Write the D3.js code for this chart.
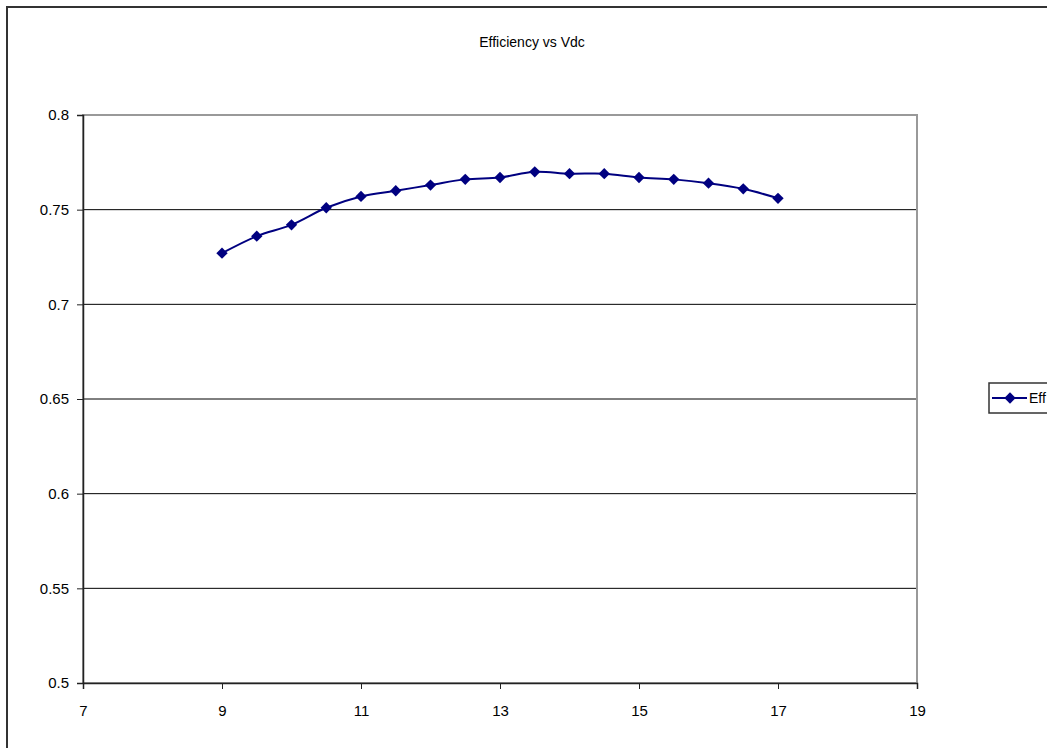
<!DOCTYPE html>
<html>
<head>
<meta charset="utf-8">
<script src="https://cdn.jsdelivr.net/npm/d3@7"></script>
<style>
	body { margin: 0; background: #fff; }
	text { font-family: "Liberation Sans", Arial, sans-serif; }
</style>
</head>
<body>
<div class="chart"></div>
<script>
var vdc = [9, 9.5, 10, 10.5, 11, 11.5, 12, 12.5, 13, 13.5, 14, 14.5, 15, 15.5, 16, 16.5, 17];
var eff = [0.727, 0.736, 0.742, 0.751, 0.757, 0.760, 0.763, 0.766, 0.767, 0.770, 0.769, 0.769, 0.767, 0.766, 0.764, 0.761, 0.756];
var xTicks = [7, 9, 11, 13, 15, 17, 19];
var yTicks = [0.5, 0.55, 0.6, 0.65, 0.7, 0.75, 0.8];
var seriesName = 'Eff';
var title = 'Efficiency vs Vdc';

var drawChart = function(){
	var w = 1047, h = 748;
	var pLeft = 83, pRight = 917, pTop = 115, pBottom = 683;
	var navy = '#000080';

	var svg = d3.select('.chart').append('svg')
		.attr('width', w)
		.attr('height', h);

	// outer chart border
	svg.append('rect')
		.attr('x', 7).attr('y', 7)
		.attr('width', w + 10).attr('height', h + 10)
		.attr('fill', 'none')
		.attr('stroke', '#333')
		.attr('stroke-width', 2);

	var x = d3.scaleLinear().domain([7, 19]).range([pLeft, pRight]);
	var y = d3.scaleLinear().domain([0.5, 0.8]).range([pBottom, pTop]);

	/*---------------------------GRID--------------------------*/

	svg.append('g').selectAll('line').data(yTicks.slice(1, -1)).enter()
		.append('line')
		.attr('x1', pLeft).attr('x2', pRight)
		.attr('y1', function(d){ return y(d); })
		.attr('y2', function(d){ return y(d); })
		.attr('stroke', '#000')
		.attr('stroke-width', 1);

	// plot area border
	svg.append('rect')
		.attr('x', pLeft).attr('y', pTop)
		.attr('width', pRight - pLeft).attr('height', pBottom - pTop)
		.attr('fill', 'none')
		.attr('stroke', '#999')
		.attr('stroke-width', 2);

	/*---------------------------AXES--------------------------*/

	var xAxis = svg.append('g')
		.attr('transform', 'translate(0,' + pBottom + ')')
		.call(d3.axisBottom(x).tickValues(xTicks).tickFormat(d3.format('d')).tickSizeOuter(0).tickSize(6).tickPadding(16));

	var yAxis = svg.append('g')
		.attr('transform', 'translate(' + pLeft + ',0)')
		.call(d3.axisLeft(y).tickValues(yTicks).tickFormat(function(d){ return String(+d.toFixed(2)); }).tickSizeOuter(0).tickSize(6).tickPadding(8));

	[xAxis, yAxis].forEach(function(a){
		a.select('.domain').attr('stroke', '#222').attr('stroke-width', 1.5);
		a.selectAll('.tick line').attr('stroke', '#222');
		a.selectAll('text').attr('font-size', 15).attr('fill', '#000')
			.style('font-family', '"Liberation Sans", Arial, sans-serif');
	});

	/*---------------------------SERIES--------------------------*/

	var pts = vdc.map(function(v, i){ return [v, eff[i]]; });

	var line = d3.line()
		.x(function(d){ return x(d[0]); })
		.y(function(d){ return y(d[1]); })
		.curve(d3.curveCardinal.tension(0));

	svg.append('path')
		.datum(pts)
		.attr('d', line)
		.attr('fill', 'none')
		.attr('stroke', navy)
		.attr('stroke-width', 2);

	var diamond = d3.symbol().type(d3.symbolSquare).size(64);

	svg.append('g').selectAll('path').data(pts).enter()
		.append('path')
		.attr('d', diamond)
		.attr('transform', function(d){ return 'translate(' + x(d[0]) + ',' + y(d[1]) + ') rotate(45)'; })
		.attr('fill', navy);

	/*---------------------------TITLE & LEGEND--------------------------*/

	svg.append('text')
		.attr('x', 532).attr('y', 47)
		.attr('text-anchor', 'middle')
		.attr('font-size', 14)
		.text(title);

	var legend = svg.append('g').attr('transform', 'translate(989,383)');

	legend.append('rect')
		.attr('x', 0).attr('y', 0)
		.attr('width', 80).attr('height', 30)
		.attr('fill', '#fff')
		.attr('stroke', '#333')
		.attr('stroke-width', 1.5);

	legend.append('line')
		.attr('x1', 3).attr('x2', 38)
		.attr('y1', 15).attr('y2', 15)
		.attr('stroke', navy).attr('stroke-width', 2);

	legend.append('path')
		.attr('d', diamond)
		.attr('transform', 'translate(21,15) rotate(45)')
		.attr('fill', navy);

	legend.append('text')
		.attr('x', 40).attr('y', 20)
		.attr('font-size', 14)
		.text(seriesName);
}();
</script>
</body>
</html>
